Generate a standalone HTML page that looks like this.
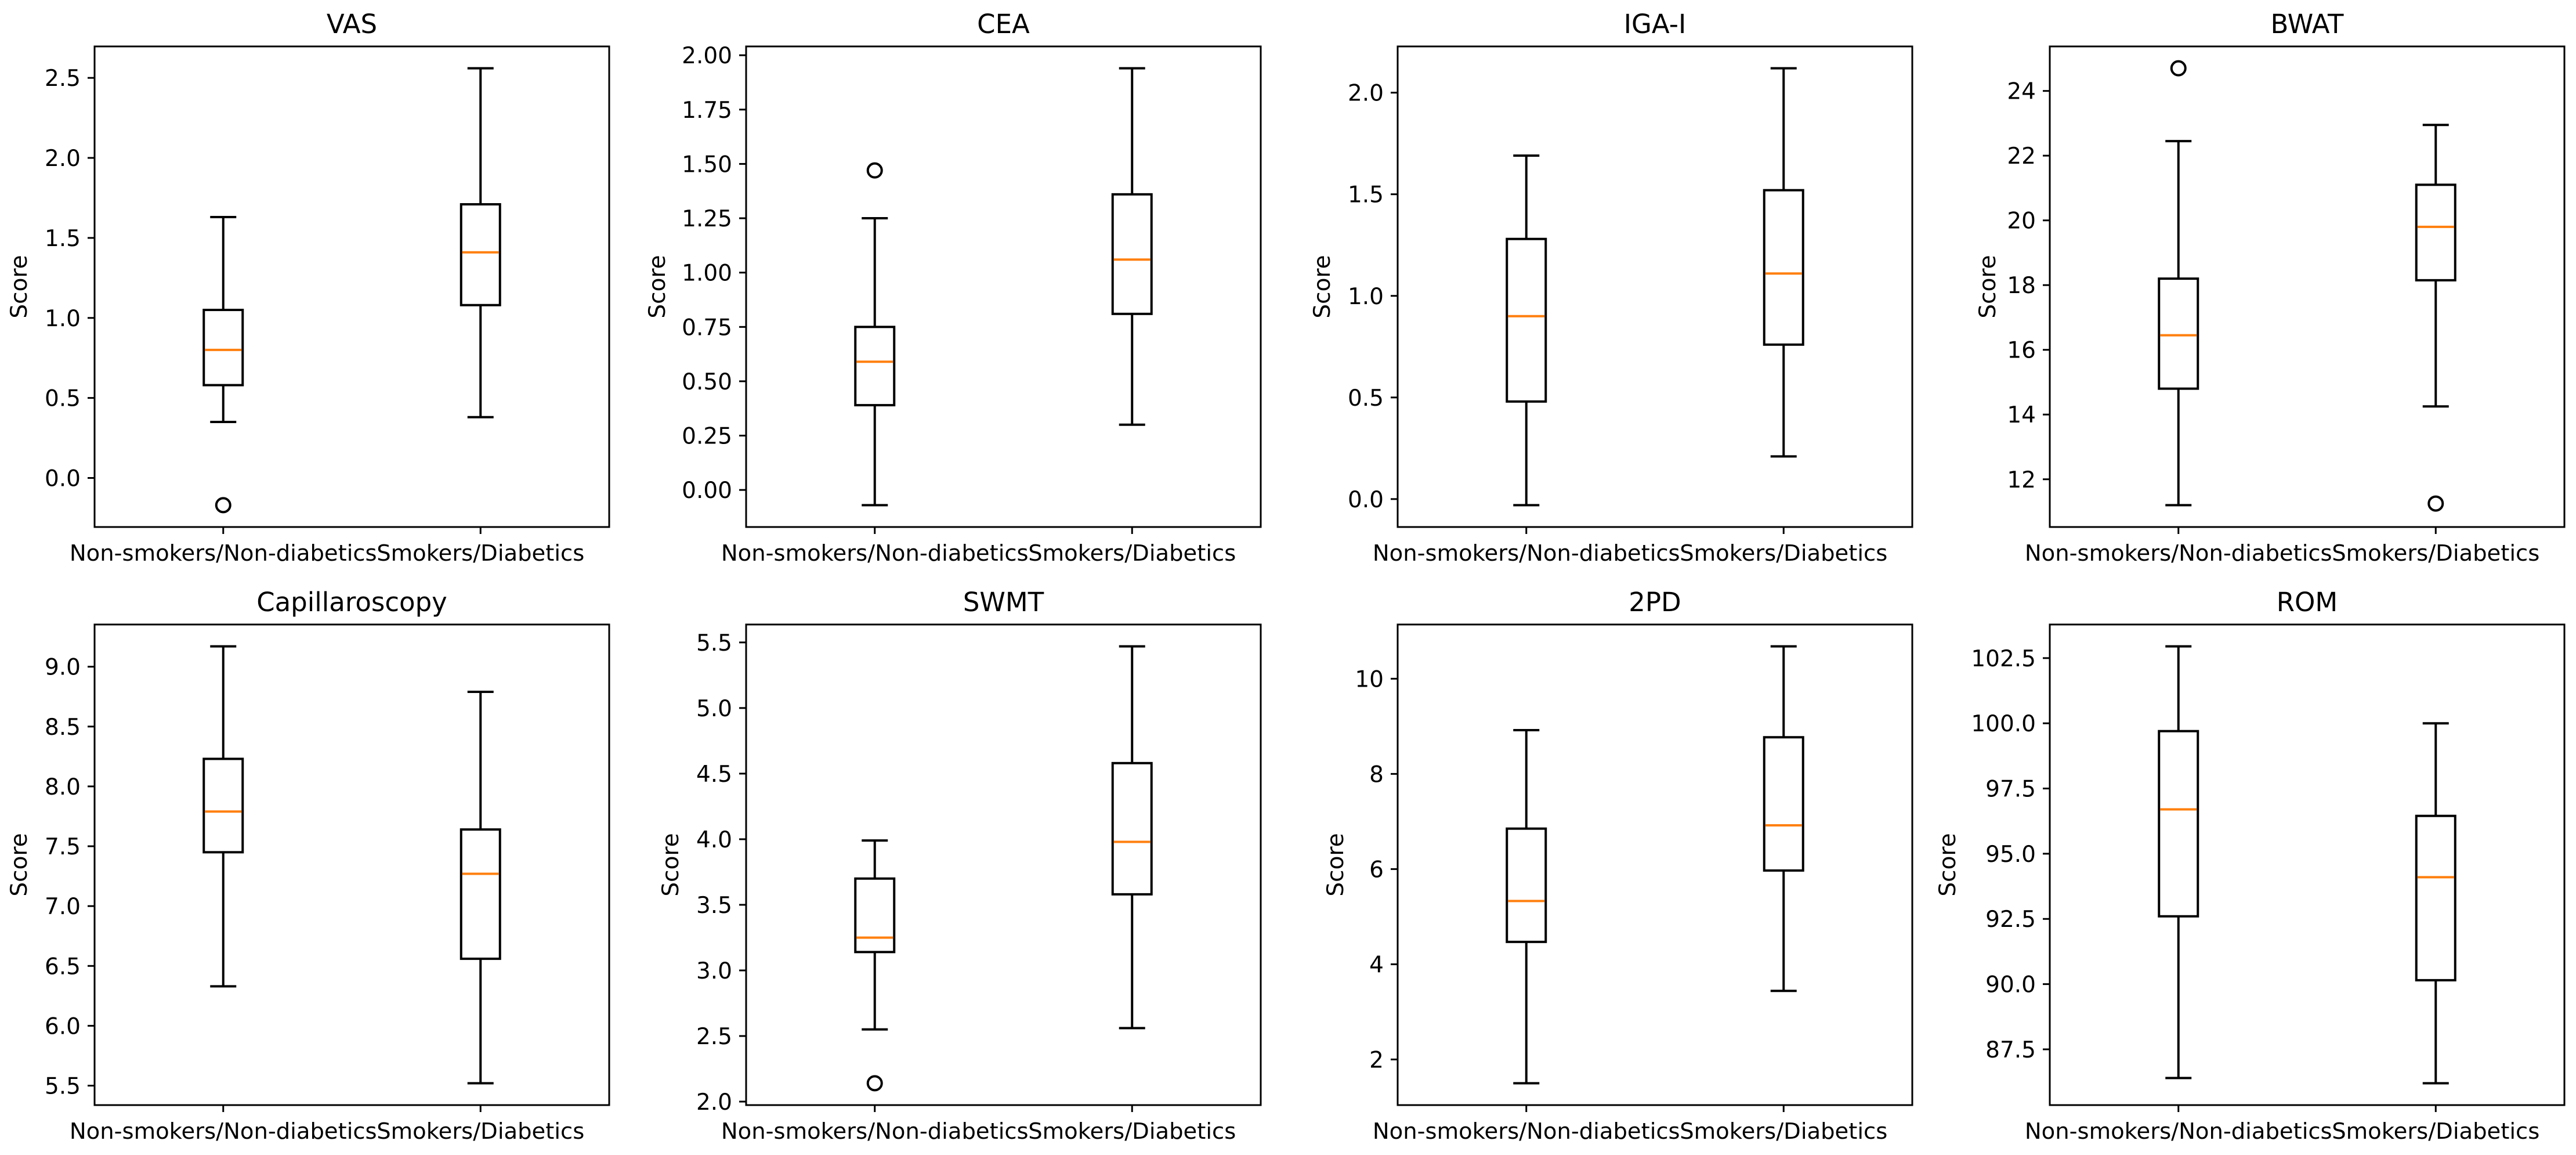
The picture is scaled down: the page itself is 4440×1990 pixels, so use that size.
<!DOCTYPE html>
<html><head><meta charset="utf-8">
<style>
html,body{margin:0;padding:0;background:#fff;}
svg{display:block;}
text{font-family:"DejaVu Sans","Liberation Sans",sans-serif;fill:#000;}
</style></head>
<body>
<svg id="fig" width="4440" height="1990" viewBox="0 0 4440 1990" xmlns="http://www.w3.org/2000/svg"></svg>
<script>
const titles = ["VAS","CEA","IGA-I","BWAT","Capillaroscopy","SWMT","2PD","ROM"];
const categories = ["Non-smokers/Non-diabetics","Smokers/Diabetics"];
// each stat: [whiskerLow, q1, median, q3, whiskerHigh]
const nonSmokerStats = [
  [0.35,0.58,0.80,1.05,1.63],
  [-0.07,0.39,0.59,0.75,1.25],
  [-0.03,0.48,0.90,1.28,1.69],
  [11.2,14.8,16.45,18.2,22.45],
  [6.33,7.45,7.79,8.23,9.17],
  [2.55,3.14,3.25,3.70,3.99],
  [1.5,4.47,5.33,6.85,8.92],
  [86.4,92.6,96.7,99.7,102.95]
];
const smokerStats = [
  [0.38,1.08,1.41,1.71,2.56],
  [0.30,0.81,1.06,1.36,1.94],
  [0.21,0.76,1.11,1.52,2.12],
  [14.25,18.15,19.8,21.1,22.95],
  [5.52,6.56,7.27,7.64,8.79],
  [2.56,3.58,3.98,4.58,5.47],
  [3.44,5.97,6.92,8.77,10.68],
  [86.2,90.15,94.1,96.45,100.0]
];
const nonSmokerOutliers = [[-0.17],[1.47],[],[24.7],[],[2.14],[],[]];
const smokerOutliers = [[],[],[],[11.25],[],[],[],[]];
const tickLabels = [
  ["0.0","0.5","1.0","1.5","2.0","2.5"],
  ["0.00","0.25","0.50","0.75","1.00","1.25","1.50","1.75","2.00"],
  ["0.0","0.5","1.0","1.5","2.0"],
  ["12","14","16","18","20","22","24"],
  ["5.5","6.0","6.5","7.0","7.5","8.0","8.5","9.0"],
  ["2.0","2.5","3.0","3.5","4.0","4.5","5.0","5.5"],
  ["2","4","6","8","10"],
  ["87.5","90.0","92.5","95.0","97.5","100.0","102.5"]
];

const NS="http://www.w3.org/2000/svg";
const svg=document.getElementById('fig');
function mk(tag,attrs,parent){const e=document.createElementNS(NS,tag);for(const k in attrs)e.setAttribute(k,attrs[k]);(parent||svg).appendChild(e);return e;}

const lefts=[163,1286,2409,3533], tops=[80,1076], W=887, H=828;
const LW=4;
titles.forEach((t,i)=>{
  const L=lefts[i%4], T=tops[Math.floor(i/4)], B=T+H;
  const g=mk('g',{});
  
  
  const groups=[nonSmokerStats[i],smokerStats[i]];
  const outs=[nonSmokerOutliers[i],smokerOutliers[i]];
  let all=[...groups[0],...groups[1],...outs[0],...outs[1]];
  let mn=Math.min(...all), mx=Math.max(...all), m=(mx-mn)*0.05;
  const y0=mn-m, y1=mx+m;
  const y=v=>B-(v-y0)/(y1-y0)*H;
  const x=p=>L+(p-0.5)/2*W;
  const tt=mk('text',{x:L+W/2,y:T-23,'font-size':45,'text-anchor':'middle'},g);
  tt.textContent=t;
  
  
  let maxw=0;
  tickLabels[i].forEach(lbl=>{
    const v=parseFloat(lbl), yy=y(v);
    const tk=mk('line',{x1:L-12,x2:L,y1:yy,y2:yy,stroke:'#000','stroke-width':3},g);
    
    
    const tl=mk('text',{x:L-24,y:yy+14,'font-size':39,'text-anchor':'end'},g);
    tl.textContent=lbl;
    
    
    maxw=Math.max(maxw,lbl.length);
  });
  const wpx=maxw*0.59*39;
  const yl=mk('text',{x:0,y:0,'font-size':39,'text-anchor':'middle',transform:`translate(${L-24-wpx-24},${T+H/2}) rotate(-90)`},g);
  yl.textContent='Score';
  
  
  groups.forEach((s,j)=>{
    const cx=x(j+1), bw=67, cw=45;
    const bg=mk('g',{},g);
    
    
    mk('line',{x1:cx,x2:cx,y1:y(s[0]),y2:y(s[1]),stroke:'#000','stroke-width':LW},bg);
    mk('line',{x1:cx,x2:cx,y1:y(s[3]),y2:y(s[4]),stroke:'#000','stroke-width':LW},bg);
    mk('line',{x1:cx-cw/2,x2:cx+cw/2,y1:y(s[0]),y2:y(s[0]),stroke:'#000','stroke-width':LW},bg);
    mk('line',{x1:cx-cw/2,x2:cx+cw/2,y1:y(s[4]),y2:y(s[4]),stroke:'#000','stroke-width':LW},bg);
    mk('rect',{x:cx-bw/2,y:y(s[3]),width:bw,height:y(s[1])-y(s[3]),fill:'none',stroke:'#000','stroke-width':LW},bg);
    mk('line',{x1:cx-bw/2+2,x2:cx+bw/2-2,y1:y(s[2]),y2:y(s[2]),stroke:'#ff7f0e','stroke-width':LW},bg);
    outs[j].forEach(o=>{
      const c=mk('circle',{cx:cx,cy:y(o),r:12,fill:'none',stroke:'#000','stroke-width':LW},bg);
      
      
    });
    const xt=mk('line',{x1:cx,x2:cx,y1:B,y2:B+12,stroke:'#000','stroke-width':3},g);
    
    
    const xl=mk('text',{x:cx,y:B+58,'font-size':38.5,'text-anchor':'middle'},g);
    xl.textContent=categories[j];
    
    
  });
  const fr=mk('rect',{x:L,y:T,width:W,height:H,fill:'none',stroke:'#000','stroke-width':3},g);
  
  
});
</script>
</body></html>
